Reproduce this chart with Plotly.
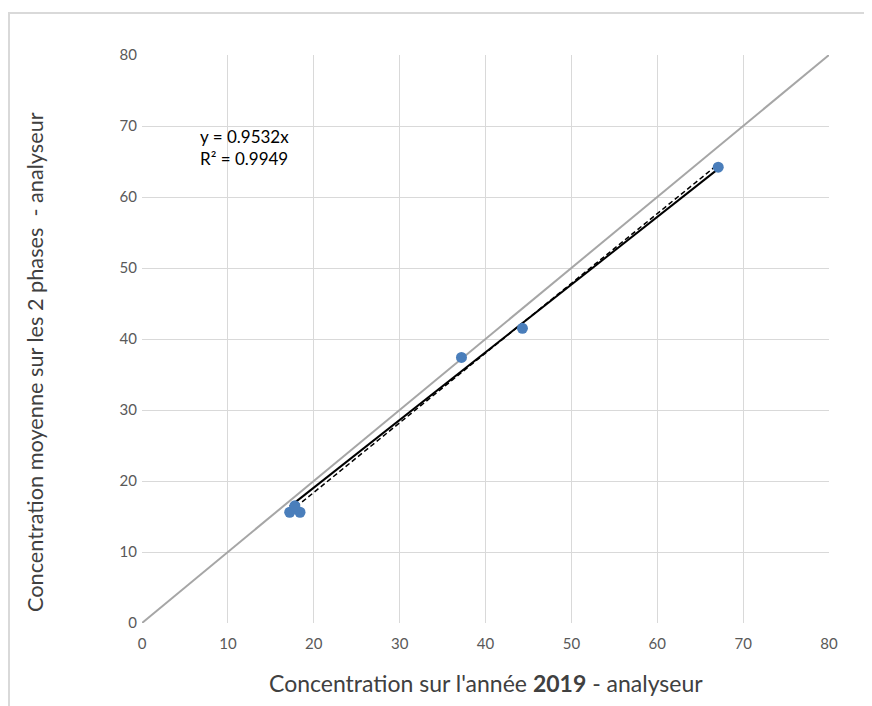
import numpy as np
import plotly.graph_objects as go

# Data
x_2019 = [17.2, 18.4, 17.8, 37.2, 44.3, 67.1]
y_moy = [15.6, 15.6, 16.5, 37.4, 41.5, 64.2]
identity = [0, 80]
slope_origin = 0.9532
r2_text = "0.9949"
tick_vals = [0, 10, 20, 30, 40, 50, 60, 70, 80]
x_title = "Concentration sur l'année <b>2019</b> - analyseur"
y_title = "Concentration moyenne sur les 2 phases  - analyseur"

xa = np.array(x_2019)
ya = np.array(y_moy)
xr = np.array([xa.min(), xa.max()])
p = np.polyfit(xa, ya, 1)

fig = go.Figure()
fig.add_trace(go.Scatter(x=identity, y=identity, mode="lines",
                         line=dict(color="#A6A6A6", width=2), hoverinfo="skip"))
fig.add_trace(go.Scatter(x=xr, y=slope_origin * xr, mode="lines",
                         line=dict(color="black", width=2), hoverinfo="skip"))
fig.add_trace(go.Scatter(x=xr, y=np.polyval(p, xr), mode="lines",
                         line=dict(color="black", width=1.5, dash="5px,3px"), hoverinfo="skip"))
fig.add_trace(go.Scatter(x=x_2019, y=y_moy, mode="markers",
                         marker=dict(color="#4A7EBB", size=11)))

font_fam = "Lato, Liberation Sans, Arial"
axis_common = dict(range=[0, 80], tickvals=tick_vals, showgrid=True,
                   gridcolor="#D9D9D9", gridwidth=1, zeroline=False,
                   showline=False, ticks="",
                   tickfont=dict(family=font_fam, size=15, color="#595959"))

L, T, W, H = 134, 47, 687, 568

fig.update_layout(
    width=872, height=706,
    margin=dict(l=L, r=872 - L - W, t=T, b=706 - T - H),
    plot_bgcolor="white", paper_bgcolor="white",
    showlegend=False,
    xaxis=dict(**axis_common, ticklabelstandoff=10),
    yaxis=dict(**axis_common, ticklabelstandoff=4),
    annotations=[
        dict(x=6.5, y=70.3, xref="x", yref="y", xanchor="left", yanchor="top",
             align="left", showarrow=False,
             text=f"y = {slope_origin}x<br>R² = {r2_text}",
             font=dict(family=font_fam, size=17, color="black")),
        dict(x=0.5, y=(T + H - 675) / H, xref="paper", yref="paper",
             xanchor="center", yanchor="middle", showarrow=False,
             text=x_title, font=dict(family=font_fam, size=23, color="#404040")),
        dict(x=(27 - L) / W, y=1 - (354 - T) / H, xref="paper", yref="paper",
             xanchor="center", yanchor="middle", showarrow=False, textangle=-90,
             text=y_title, font=dict(family=font_fam, size=21.7, color="#404040")),
    ],
    shapes=[dict(type="rect", xref="paper", yref="paper",
                 x0=-(L - 1) / W, x1=1.2, y0=-0.3, y1=1 + (T - 5) / H,
                 line=dict(color="#D9D9D9", width=2), layer="below")],
)

fig.write_html("out.html")
